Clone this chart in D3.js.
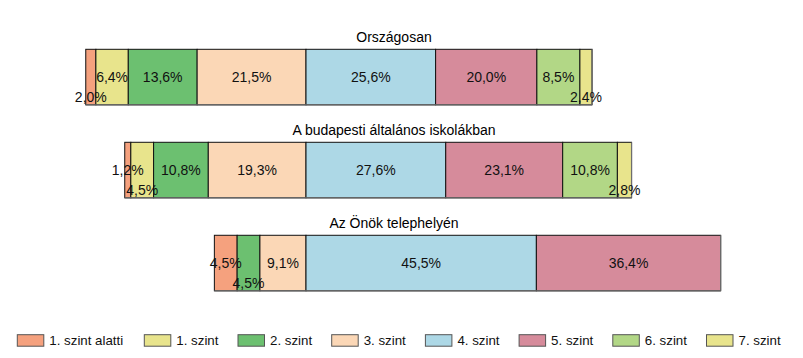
<!DOCTYPE html>
<html><head><meta charset="utf-8">
<script src="https://cdn.jsdelivr.net/npm/d3@7"></script>
<style>
html,body{margin:0;padding:0;background:#fff;}
svg{display:block;font-family:"Liberation Sans",Arial,sans-serif;}
</style></head>
<body><svg id="chart" width="803" height="358"></svg>
<script>
// ---- data ----
const levels = ["1. szint alatti","1. szint","2. szint","3. szint","4. szint","5. szint","6. szint","7. szint"];
const groups = ["Országosan","A budapesti általános iskolákban","Az Önök telephelyén"];
const orszagosan = [2.0, 6.4, 13.6, 21.5, 25.6, 20.0, 8.5, 2.4];
const budapest   = [1.2, 4.5, 10.8, 19.3, 27.6, 23.1, 10.8, 2.8];
const telephely  = [4.5, 0, 4.5, 9.1, 45.5, 36.4, 0, 0];
const colors = ["#F5A17E","#E8E48C","#6CC070","#FBD7B6","#ADD8E6","#D68B9B","#B2D786","#E8E48C"];
const seriesByGroup = [orszagosan, budapest, telephely];

// ---- layout ----
const svg = d3.select("#chart");
const k = 5.063, cx = 306;
const x = d3.scaleLinear().domain([-60, 97]).range([cx - 60*k, cx + 97*k]);
const y = d3.scaleBand().domain(groups).range([49.3, 290.8]).paddingInner(0.403).paddingOuter(0);
const loc = d3.formatLocale({decimal: ",", thousands: " ", grouping: [3], currency: ["", ""]});
const fmt = v => loc.format(".1f")(v) + "%";

groups.forEach((g, gi) => {
  const vals = seriesByGroup[gi];
  const neg = d3.sum(vals.slice(0, 4));
  let acc = -neg;
  const segs = vals.map((v, i) => { const s = {i, v, x0: acc, x1: acc + v}; acc += v; return s; });
  const top = y(g), h = y.bandwidth();
  const G = svg.append("g");
  // title
  G.append("text").attr("x", 394).attr("y", top - 12).attr("dy", "0.35em")
    .attr("text-anchor", "middle").attr("font-size", 14).attr("fill", "#000").text(g);
  const present = segs.filter(s => s.v > 0);
  G.selectAll("rect").data(present).join("rect")
    .attr("x", s => x(s.x0)).attr("y", top)
    .attr("width", s => x(s.x1) - x(s.x0)).attr("height", h)
    .attr("fill", s => colors[s.i]).attr("stroke", "#111").attr("stroke-width", 1);
  // softer bottom and right edges
  const xl = x(present[0].x0), xr = x(present[present.length-1].x1);
  G.append("line").attr("x1", xl).attr("x2", xr).attr("y1", top + h).attr("y2", top + h)
    .attr("stroke", "#6e6e6e").attr("stroke-width", 1.2);
  G.append("line").attr("x1", xr).attr("x2", xr).attr("y1", top).attr("y2", top + h)
    .attr("stroke", "#6e6e6e").attr("stroke-width", 1.2);
  // labels
  const cy = top + h/2;
  const labs = present.map(s => {
    const t = G.append("text").attr("x", (x(s.x0) + x(s.x1))/2).attr("y", cy).attr("dy", "0.35em")
      .attr("text-anchor", "middle").attr("font-size", 14).attr("fill", "#111").text(fmt(s.v));
    const w = t.node().getComputedTextLength();
    const c = (x(s.x0) + x(s.x1))/2;
    return {t, w, c, fits: w <= (x(s.x1) - x(s.x0)) + 1, low: false};
  });
  const mids = labs.filter(l => l.fits);
  labs.filter(l => !l.fits).forEach(l => {
    const ov = mids.some(m => Math.abs(m.c - l.c) < (m.w + l.w)/2);
    if (ov) { l.low = true; l.t.attr("y", cy + 20); } else mids.push(l);
  });
});

// ---- legend ----
const lg = svg.append("g");
levels.forEach((name, i) => {
  const lx = i === 0 ? 17.3 : 144.3 + 93.7*(i-1);
  lg.append("rect").attr("x", lx).attr("y", 334.7).attr("width", 26.5).attr("height", 11.5)
    .attr("fill", colors[i]).attr("stroke", "#555").attr("stroke-width", 1);
  lg.append("text").attr("x", lx + 32).attr("y", 340.5).attr("dy", "0.35em")
    .attr("font-size", 13.3).attr("fill", "#111").text(name);
});
</script></body></html>
